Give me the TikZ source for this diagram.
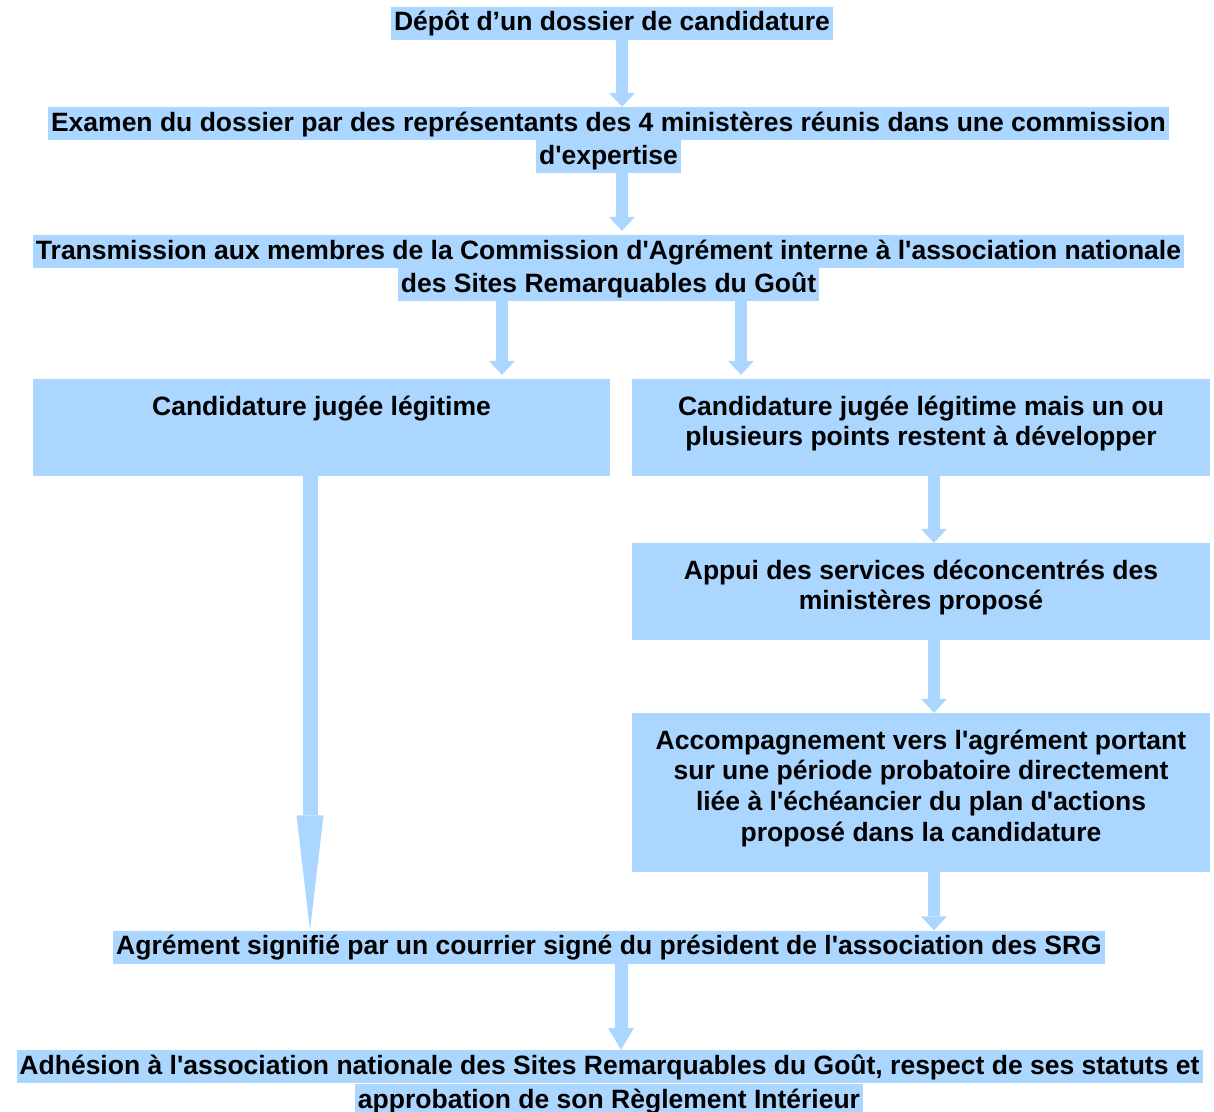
\documentclass[tikz,border=0pt]{standalone}
\usepackage{fontspec}
\setmainfont{Liberation Sans}[Ligatures=TeXOff]
\usetikzlibrary{arrows.meta}
\definecolor{hlblue}{RGB}{170,214,255}
\newcommand\firstline{\rule{0pt}{36pt}}
\begin{document}
\begin{tikzpicture}[x=1pt,y=-1pt,
  every node/.style={font=\bfseries\fontsize{26.5}{30.7}\selectfont, text=black},
  hl/.style={fill=hlblue, inner xsep=3pt, inner ysep=0pt, minimum height=33pt, text height=21pt, text depth=6pt},
  flowbox/.style={fill=hlblue, inner sep=0pt},
  flowarrow/.style={draw=hlblue, line width=12pt, -{Triangle[length=14pt,width=26pt,line width=0pt]}},
  longarrow/.style={draw=hlblue, line width=15pt, -{Triangle[length=115pt,width=27pt,line width=0pt]}},
  midarrow/.style={draw=hlblue, line width=13pt, -{Triangle[length=22pt,width=26pt,line width=0pt]}}]
\useasboundingbox (0,0) rectangle (1214,1111);

% highlighted text lines
\node[hl] (dep) at (612,23) {Dépôt d’un dossier de candidature};
\node[hl] (exa1) at (608.5,123.5) {Examen du dossier par des représentants des 4 ministères réunis dans une commission};
\node[hl] (exa2) at (608.5,156.5) {d'expertise};
\node[hl] (tra1) at (608.5,251.5) {Transmission aux membres de la Commission d'Agrément interne à l'association nationale};
\node[hl] (tra2) at (608.5,284.5) {des Sites Remarquables du Goût};
\node[hl] (agr) at (609,947) {Agrément signifié par un courrier signé du président de l'association des SRG};
\node[hl] (adh1) at (609.5,1066.5) {Adhésion à l'association nationale des Sites Remarquables du Goût, respect de ses statuts et};
\node[hl] (adh2) at (609,1100.5) {approbation de son Règlement Intérieur};

% boxes
\node[flowbox] (l1) at (321.5,427.5) {\begin{minipage}[c][97pt][t]{577pt}\centering\firstline Candidature jugée légitime\end{minipage}};
\node[flowbox] (r1) at (921,427.5) {\begin{minipage}[c][97pt][t]{578pt}\centering\firstline Candidature jugée légitime mais un ou\\plusieurs points restent à développer\end{minipage}};
\node[flowbox] (r2) at (921,591.5) {\begin{minipage}[c][97pt][t]{578pt}\centering\firstline Appui des services déconcentrés des\\ministères proposé\end{minipage}};
\node[flowbox] (r3) at (921,792.5) {\begin{minipage}[c][159pt][t]{578pt}\centering\firstline Accompagnement vers l'agrément portant\\sur une période probatoire directement\\liée à l'échéancier du plan d'actions\\proposé dans la candidature\end{minipage}};

% connectors
\draw[flowarrow] (dep.south -| 622,0) -- (exa1.north -| 622,0);
\draw[flowarrow] (exa2.south -| 622,0) -- ([yshift=4pt]tra1.north -| 622,0);
\draw[flowarrow] (tra2.south -| 502,0) -- ([yshift=4pt]l1.north -| 502,0);
\draw[flowarrow] (tra2.south -| 741,0) -- ([yshift=4pt]r1.north -| 741,0);
\draw[flowarrow] (r1.south -| 934,0) -- (r2.north -| 934,0);
\draw[flowarrow] (r2.south -| 934,0) -- (r3.north -| 934,0);
\draw[flowarrow] (r3.south -| 934,0) -- (agr.north -| 934,0);
\draw[longarrow] (l1.south -| 310,0) -- (agr.north -| 310,0);
\draw[midarrow] (agr.south -| 621,0) -- (adh1.north -| 621,0);
\end{tikzpicture}
\end{document}
